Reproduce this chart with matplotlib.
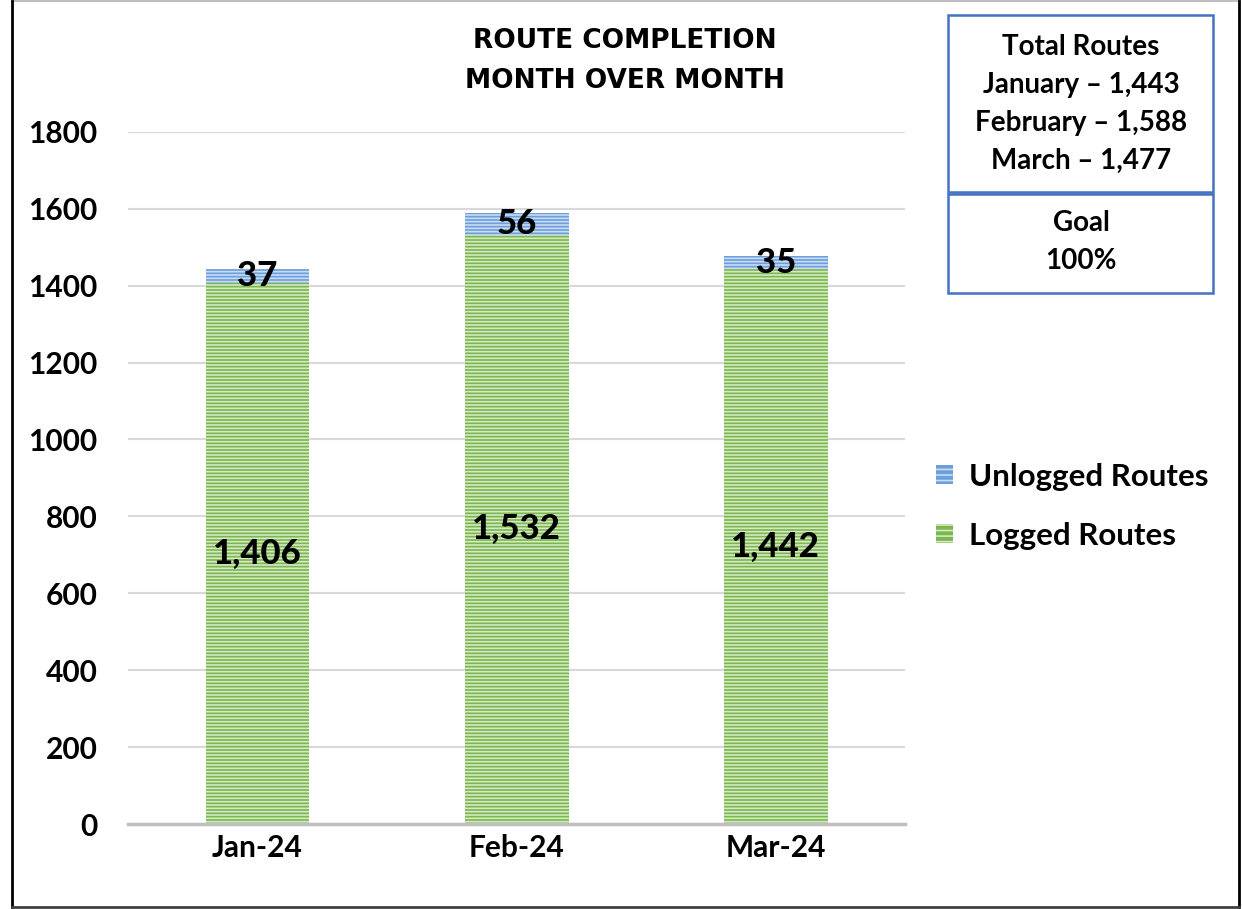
import matplotlib
matplotlib.use("Agg")
import matplotlib.pyplot as plt
from matplotlib.patches import Patch, Rectangle
from matplotlib.lines import Line2D
import numpy as np

plt.rcParams["font.family"] = ["Lato", "DejaVu Sans"]
plt.rcParams["hatch.linewidth"] = 1.2

# data
months = ["Jan-24", "Feb-24", "Mar-24"]
logged = [1406, 1532, 1442]
unlogged = [37, 56, 35]
logged_labels = ["1,406", "1,532", "1,442"]
totals_text = ["Total Routes", "January \u2013 1,443", "February \u2013 1,588", "March \u2013 1,477"]
goal_text = ["Goal", "100%"]

green = "#7CB74E"
green_light = "#D4E9C4"
blue = "#6A9FDB"
blue_light = "#C9DCF3"

fig = plt.figure(figsize=(12.42, 9.09), dpi=100)
ax = fig.add_axes([0.103, 0.0935, 0.626, 0.7615])

x = np.arange(len(months))
w = 0.4

# base fill then a light striped overlay
ax.bar(x, logged, w, color=green, linewidth=0, zorder=2)
ax.bar(x, logged, w, facecolor="none", edgecolor=green_light, hatch="-----",
       linewidth=0, zorder=3)
ax.bar(x, unlogged, w, bottom=logged, color=blue, linewidth=0, zorder=2)
ax.bar(x, unlogged, w, bottom=logged, facecolor="none", edgecolor=blue_light,
       hatch="-----", linewidth=0, zorder=3)

for i in range(len(months)):
    ax.text(x[i], logged[i] / 2, logged_labels[i], ha="center", va="center",
            fontsize=25, fontweight="black", zorder=5)
    ax.text(x[i], logged[i] + unlogged[i] / 2, str(unlogged[i]), ha="center",
            va="center", fontsize=25, fontweight="black", zorder=5)

ax.set_xlim(-0.5, 2.5)
ax.set_ylim(0, 1800)
ax.set_yticks(range(0, 1801, 200))
ax.set_xticks(x)
ax.set_xticklabels(months)
ax.tick_params(axis="both", length=0, labelsize=21.5)
ax.tick_params(axis="y", pad=22)
ax.tick_params(axis="x", pad=7)
for lab in ax.get_xticklabels() + ax.get_yticklabels():
    lab.set_fontweight("bold")

ax.grid(axis="y", color="#D9D9D9", linewidth=1.5, zorder=0)
ax.set_axisbelow(True)
for s in ["top", "right", "left"]:
    ax.spines[s].set_visible(False)
ax.spines["bottom"].set_color("#BFBFBF")
ax.spines["bottom"].set_linewidth(2.5)

fig.text(625 / 1242, 1 - 61 / 909, "ROUTE COMPLETION\nMONTH OVER MONTH",
         ha="center", va="center", fontsize=19, fontweight="bold",
         family="DejaVu Sans", linespacing=1.72)

# legend
handles = [Patch(facecolor=blue, edgecolor=blue_light, hatch="---", linewidth=0),
           Patch(facecolor=green, edgecolor=green_light, hatch="---", linewidth=0)]
leg = fig.legend(handles, ["Unlogged Routes", "Logged Routes"],
                 loc="center left", bbox_to_anchor=(0.731, 0.443), frameon=False,
                 prop={"size": 22.5, "weight": "bold"}, handlelength=0.55,
                 handleheight=0.55, handletextpad=0.5, labelspacing=1.0)

# info boxes
box_col = "#4472C4"
fig.patches.append(Rectangle((948 / 1242, 1 - 192 / 909), 265 / 1242, 177 / 909,
                             transform=fig.transFigure, fill=False,
                             edgecolor=box_col, linewidth=1.8))
fig.patches.append(Rectangle((948 / 1242, 1 - 293 / 909), 265 / 1242, 99 / 909,
                             transform=fig.transFigure, fill=False,
                             edgecolor=box_col, linewidth=1.8))
fig.text(1081 / 1242, 1 - 104 / 909, "\n".join(totals_text), ha="center",
         va="center", fontsize=20, fontweight="bold", linespacing=1.57)
fig.text(1081 / 1242, 1 - 242 / 909, "\n".join(goal_text), ha="center",
         va="center", fontsize=20, fontweight="bold", linespacing=1.57)

# outer frame
fw, fh = 1242, 909
fig.add_artist(Line2D([12 / fw, 1239 / fw], [1 - 1 / fh, 1 - 1 / fh],
                      transform=fig.transFigure, color="#BFBFBF", linewidth=1.5))
fig.add_artist(Line2D([12 / fw, 12 / fw], [1 - 1 / fh, 1 - 907 / fh],
                      transform=fig.transFigure, color="black", linewidth=2))
fig.add_artist(Line2D([1239 / fw, 1239 / fw], [1 - 1 / fh, 1 - 907 / fh],
                      transform=fig.transFigure, color="black", linewidth=2))
fig.add_artist(Line2D([12 / fw, 1239 / fw], [1 - 907 / fh, 1 - 907 / fh],
                      transform=fig.transFigure, color="#404040", linewidth=2))

fig.savefig("out.png", dpi=100)
